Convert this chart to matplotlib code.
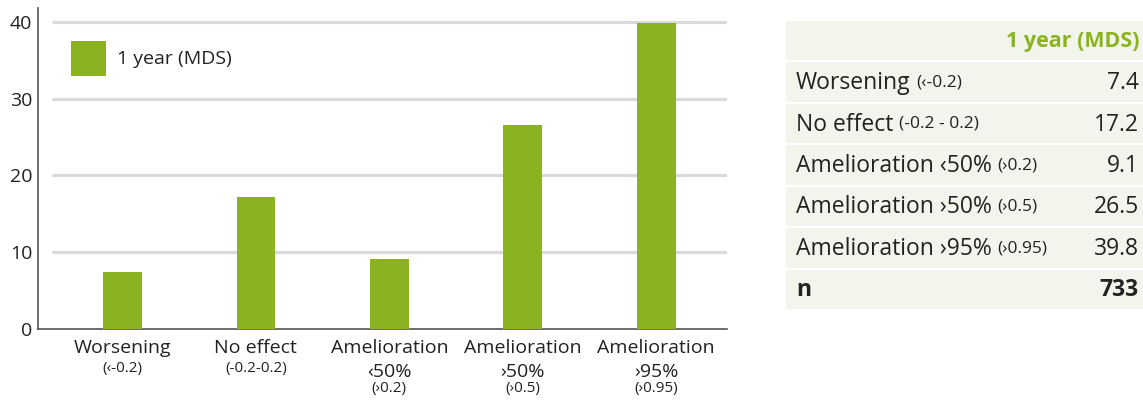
import matplotlib.pyplot as plt
from matplotlib.patches import Rectangle

plt.rcParams['font.family'] = ['Open Sans', 'DejaVu Sans']

# data
categories = ['Worsening', 'No effect', 'Amelioration\n‹50%', 'Amelioration\n›50%', 'Amelioration\n›95%']
sub_labels = ['(‹-0.2)', '(-0.2-0.2)', '(›0.2)', '(›0.5)', '(›0.95)']
values = [7.4, 17.2, 9.1, 26.5, 39.8]
series_name = '1 year (MDS)'

table_labels = ['Worsening', 'No effect', 'Amelioration ‹50%', 'Amelioration ›50%', 'Amelioration ›95%']
table_subs = ['(‹-0.2)', '(-0.2 - 0.2)', '(›0.2)', '(›0.5)', '(›0.95)']
table_values = ['7.4', '17.2', '9.1', '26.5', '39.8']
n_label = 'n'
n_value = '733'

green = '#8bb321'
dark = '#222222'
grid_c = '#dadada'
table_bg = '#f2f5eb'

fig = plt.figure(figsize=(11.43, 4.0), dpi=100)
ax = fig.add_axes([38/1143, 1-329/400, 689/1143, 321/400])

x = list(range(len(values)))
ax.bar(x, values, width=0.29, color=green, label=series_name, zorder=3)
ax.hlines([10, 20, 30, 40], -0.53, 4.53, colors=grid_c, lw=2.3, zorder=1)

ax.set_xlim(-0.633, 4.53)
ax.set_ylim(0, 41.8)
ax.set_yticks([0, 10, 20, 30, 40])
ax.tick_params(axis='y', length=0, pad=4, labelsize=14, colors=dark)
ax.set_xticks([])
for s in ['top', 'right']:
    ax.spines[s].set_visible(False)
for s in ['left', 'bottom']:
    ax.spines[s].set_color('#555555')
    ax.spines[s].set_linewidth(1.2)

# category labels (main + small range label)
for i, (lab, sub) in enumerate(zip(categories, sub_labels)):
    lines = lab.split('\n')
    for k, line in enumerate(lines):
        ax.annotate(line, xy=(i, 0), xycoords=('data', 'axes fraction'),
                    xytext=(0, -14 - 17.3*k), textcoords='offset points',
                    ha='center', va='center', fontsize=14, color=dark)
    ax.annotate(sub, xy=(i, 0), xycoords=('data', 'axes fraction'),
                xytext=(0, -28.5 - 17.3*(len(lines)-1) + (3 if len(lines) > 1 else 0)),
                textcoords='offset points',
                ha='center', va='center', fontsize=11, color=dark)

ax.legend(loc='upper left', bbox_to_anchor=(0.048, 0.897), frameon=False,
          borderpad=0, borderaxespad=0, handlelength=1.8, handleheight=2.35,
          handletextpad=0.55, fontsize=14, labelcolor=dark)

# table on the right
tx = fig.add_axes([786/1143, 1-311/400, 357/1143, 290/400])
tx.set_xlim(0, 357)
tx.set_ylim(290, 0)
tx.axis('off')
n_rows = len(table_labels) + 2
rh = 290 / n_rows
for r in range(n_rows):
    tx.add_patch(Rectangle((0, r*rh), 357, rh - 2, color=table_bg, lw=0))

tx.text(353, rh/2, series_name, ha='right', va='center', fontsize=15.5,
        fontweight='bold', color=green)
for r, (lab, sub, val) in enumerate(zip(table_labels, table_subs, table_values), start=1):
    yc = r*rh + rh/2
    t = tx.text(10, yc, lab, ha='left', va='center', fontsize=16.5, color=dark)
    tx.annotate(sub, xy=(1, 0.2), xycoords=t, xytext=(4, 0), textcoords='offset points',
                ha='left', va='bottom', fontsize=12.5, color=dark)
    tx.text(353, yc, val, ha='right', va='center', fontsize=16.5, color=dark)
yc = (n_rows - 1)*rh + rh/2
tx.text(10, yc, n_label, ha='left', va='center', fontsize=16.5, fontweight='bold', color=dark)
tx.text(353, yc, n_value, ha='right', va='center', fontsize=16.5, fontweight='bold', color=dark)

fig.savefig('out.png', dpi=100)
